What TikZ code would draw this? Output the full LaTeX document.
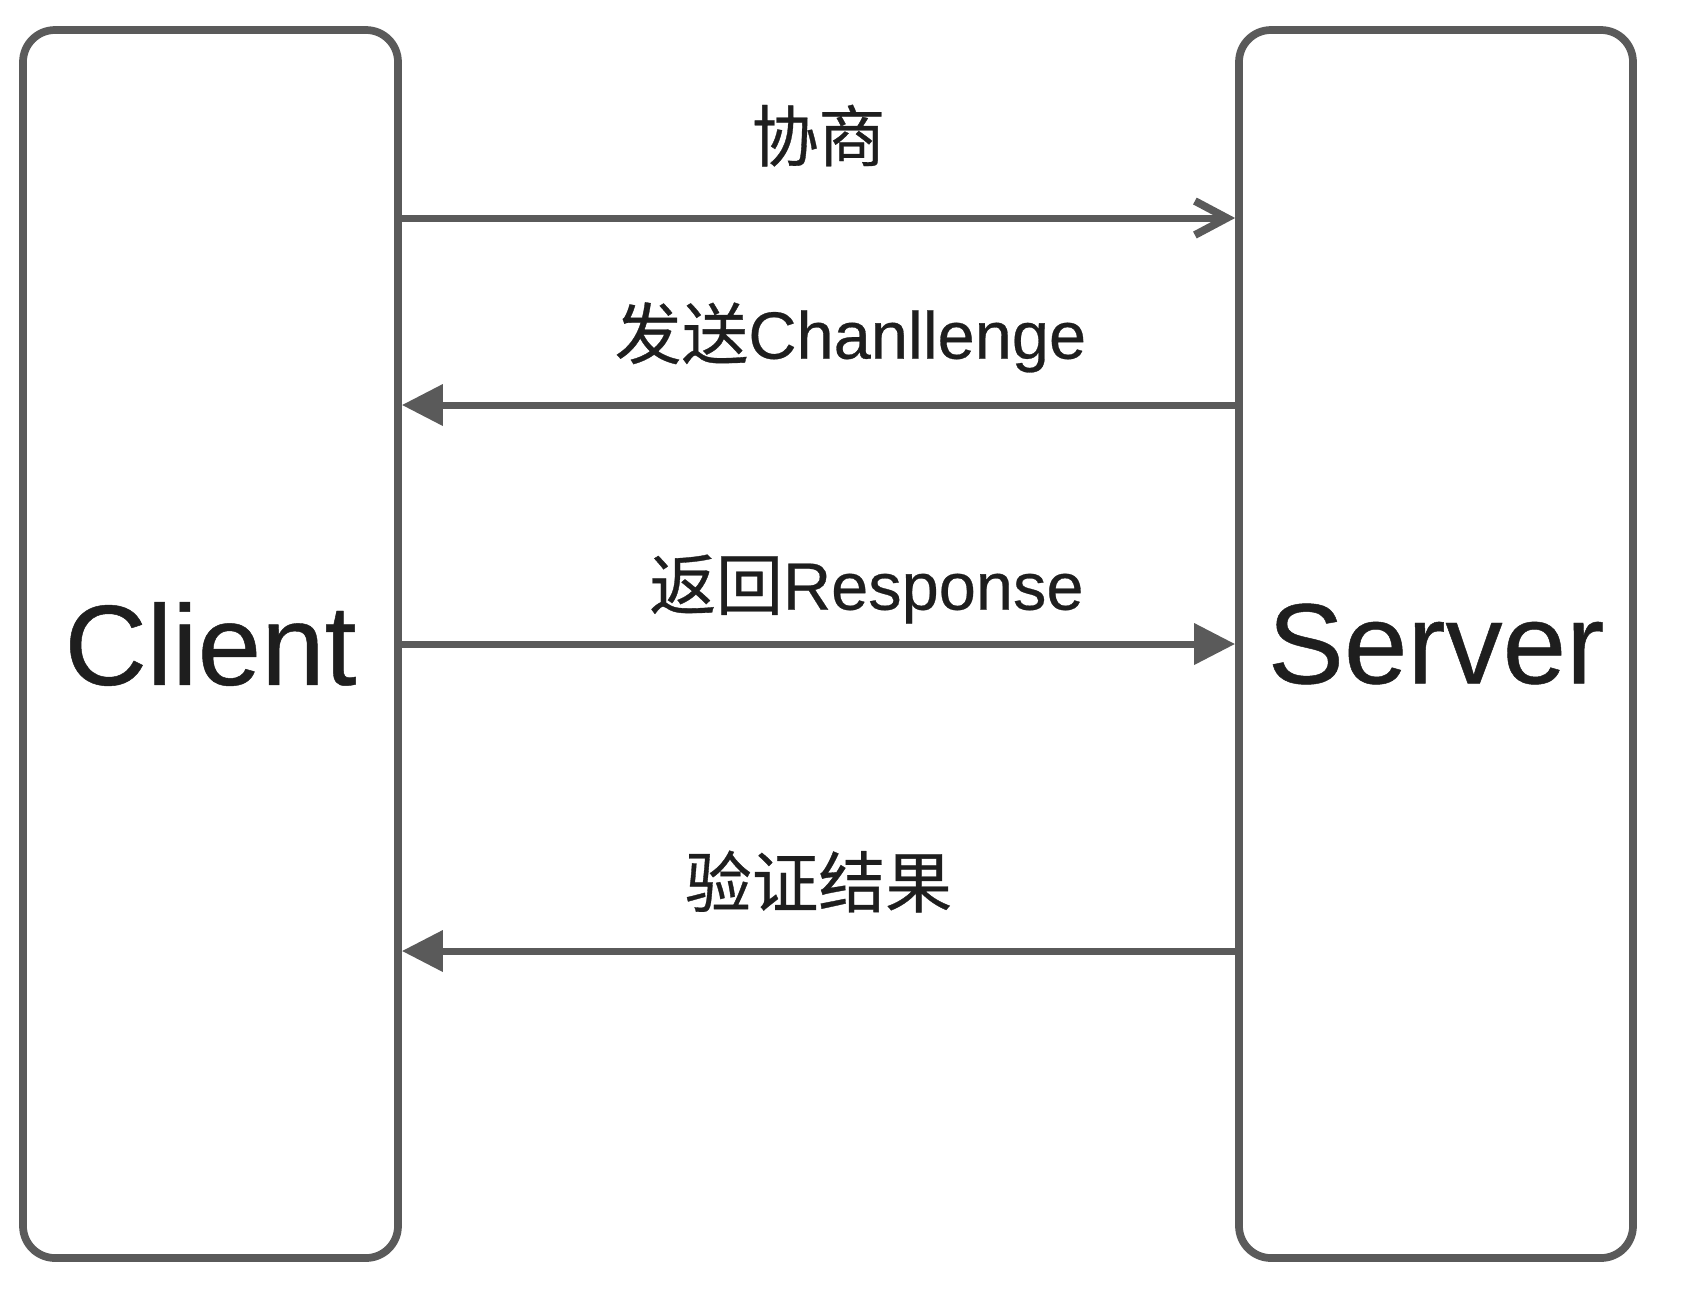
\documentclass[tikz,border=0pt]{standalone}
\usepackage{fontspec}
\setmainfont[FakeBold=0.4]{Liberation Sans}
\newfontfamily\cjk[FakeBold=0.5]{Noto Sans CJK SC}
\usetikzlibrary{arrows.meta, positioning}
\definecolor{lineGray}{RGB}{90,90,90}
\definecolor{textDark}{RGB}{30,30,30}

\begin{document}
\begin{tikzpicture}[
  party/.style={rectangle, draw=lineGray, line width=2.2pt, rounded corners=0.32cm,
                minimum height=12.28cm, inner sep=0pt,
                text=textDark, font=\fontsize{32.5}{38}\selectfont},
  msg/.style={draw=lineGray, line width=2pt},
  msglabel/.style={text=textDark, font=\fontsize{19}{22}\selectfont, inner sep=0pt},
  openTip/.style={-{Straight Barb[length=0.32cm, width=0.34cm, line width=2.2pt]}},
  fullTip/.style={-{Triangle[length=0.41cm, width=0.40cm]}}
]
  \useasboundingbox (0,0) rectangle (16.82,-12.92);

  \node[party, minimum width=3.75cm] (client) at (2.105,-6.44) {Client};
  \node[party, minimum width=3.94cm] (server) at (14.36,-6.44) {Server};

  % message rows
  \coordinate (r1) at (0,-2.18);
  \coordinate (r2) at (0,-4.05);
  \coordinate (r3) at (0,-6.44);
  \coordinate (r4) at (0,-9.51);

  \draw[msg, openTip] (client.east |- r1) -- (server.west |- r1)
    node[msglabel, midway, above=0.48cm] (l1) {\cjk 协商};
  \draw[msg, fullTip] (server.west |- r2) -- (client.east |- r2)
    node[msglabel, midway, above=0.29cm, xshift=0.32cm] (l2) {{\cjk 发送}Chanllenge};
  \draw[msg, fullTip] (client.east |- r3) -- (server.west |- r3)
    node[msglabel, midway, above=0.17cm, xshift=0.48cm] (l3) {{\cjk 返回}Response};
  \draw[msg, fullTip] (server.west |- r4) -- (client.east |- r4)
    node[msglabel, midway, above=0.35cm] (l4) {\cjk 验证结果};
\end{tikzpicture}
\end{document}
